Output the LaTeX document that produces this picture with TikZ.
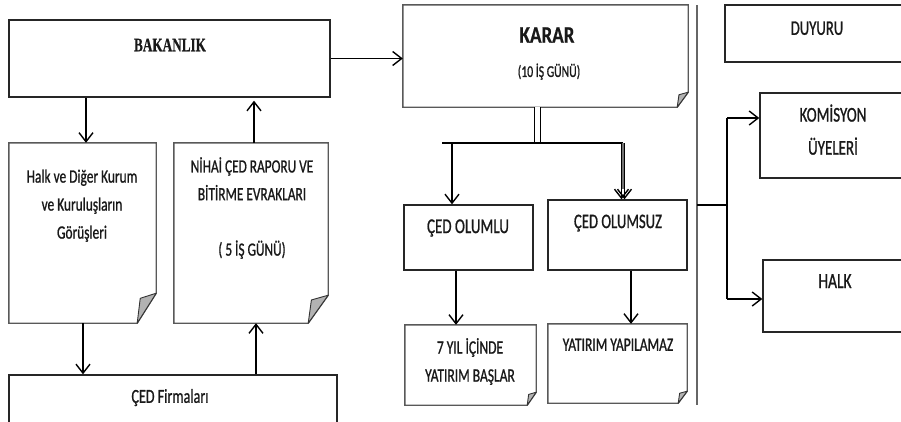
\documentclass[tikz,border=0pt]{standalone}
\usepackage{fontspec}
\usepackage{graphicx}
\setmainfont{Carlito}[FakeBold=1.2]
\newfontfamily\serifbk{Liberation Serif}[FakeBold=0.8]
\newfontfamily\karfont{Carlito Bold}[FakeBold=0.6]
\usetikzlibrary{arrows.meta,calc}
\newcommand\vt[3]{\scalebox{1}[1.4]{\fontsize{#1}{#2}\selectfont\begin{tabular}{@{}c@{}}#3\end{tabular}}}
\newcommand\docshape[3]{%
 \draw[docline] (#1.south west) -- (#1.north west) -- (#1.north east) -- ($(#1.south east)+(0,-#3)$) -- ($(#1.south east)+(-#2,0)$) -- cycle;
 \filldraw[fold] ($(#1.south east)+(0,-#3)$) -- ($(#1.south east)+(-0.84*#2,-0.83*#3)$) -- ($(#1.south east)+(-#2,0)$) -- cycle;}
\begin{document}
\begin{tikzpicture}[x=1pt,y=-1pt,
  box/.style={draw=black!85,line width=1.4pt,inner sep=0pt},
  docbox/.style={draw=none,inner sep=0pt},
  docline/.style={draw=black!65,line width=1.4pt,fill=white},
  fold/.style={draw=black!80,fill=black!30,line width=0.9pt,line join=round},
  txt/.style={inner sep=0pt,text=black!90},
  arr/.style={line width=1.4pt,-{Straight Barb[length=9pt,width=14pt,line width=1.4pt]}},
  ln/.style={line width=1.4pt}]
\useasboundingbox (0,0) rectangle (901,421);
\clip (0,0) rectangle (901,421);
% boxes
\node[box,minimum width=321pt,minimum height=77pt] (bak) at (169.5,58.5) {};
\node[docbox,minimum width=147pt,minimum height=180pt] (halk) at (82.5,233) {};
\node[docbox,minimum width=154pt,minimum height=180pt] (nihai) at (251,233) {};
\node[box,minimum width=328pt,minimum height=56pt] (cedf) at (173,403) {};
\node[docbox,minimum width=285pt,minimum height=102pt] (karar) at (545.5,56) {};
\node[box,minimum width=129pt,minimum height=65pt] (olumlu) at (468.5,237.5) {};
\node[box,minimum width=139pt,minimum height=70pt] (olumsuz) at (617.5,235) {};
\node[docbox,minimum width=131pt,minimum height=80pt] (yedi) at (470.5,365) {};
\node[docbox,minimum width=139pt,minimum height=79pt] (yatirim) at (617.5,363.5) {};
\node[box,minimum width=190pt,minimum height=57pt] (duyuru) at (820,33.5) {};
\node[box,minimum width=155pt,minimum height=85pt] (komisyon) at (837.5,135.5) {};
\node[box,minimum width=152pt,minimum height=72pt] (halkb) at (839,296) {};
\docshape{halk}{19}{30}
\docshape{nihai}{20}{28}
\docshape{karar}{11}{15}
\docshape{yedi}{9}{13}
\docshape{yatirim}{9}{12}
% texts
\node[txt] (tbak) at (170,45) {\scalebox{1}[1.45]{\serifbk\bfseries\fontsize{13.2}{16}\selectfont BAKANLIK}};
\node[txt] (thalk) at (82,205) {\vt{13.4}{20}{Halk ve Diğer Kurum\\ve Kuruluşların\\Görüşleri}};
\node[txt] (tnihai) at (252,208.5) {\vt{13.3}{19.8}{NİHAİ ÇED RAPORU VE\\BİTİRME EVRAKLARI\\[0pt] \\( 5 İŞ GÜNÜ)}};
\node[txt] (tcedf) at (170,398) {\vt{14.1}{17}{ÇED Firmaları}};
\node[txt] (tkarar) at (547,35) {\scalebox{1}[1.25]{\karfont\fontsize{19}{22}\selectfont KARAR}};
\node[txt] (tgun) at (549,73) {\vt{11.7}{14}{(10 İŞ GÜNÜ)}};
\node[txt] (tolumlu) at (468,228) {\vt{15}{18}{ÇED OLUMLU}};
\node[txt] (tolumsuz) at (618,223) {\vt{14.7}{18}{ÇED OLUMSUZ}};
\node[txt] (tyedi) at (470,362) {\vt{13.5}{20}{7 YIL İÇİNDE\\YATIRIM BAŞLAR}};
\node[txt] (tyatirim) at (618,346) {\vt{13.5}{17}{YATIRIM YAPILAMAZ}};
\node[txt] (tduyuru) at (817,30) {\vt{14.7}{17}{DUYURU}};
\node[txt] (tkom) at (833,131.5) {\vt{15}{23.6}{KOMİSYON\\ÜYELERİ}};
\node[txt] (thalkb) at (835,283) {\vt{15.5}{18}{HALK}};
% helper coordinates
\coordinate (c1) at (86,0);
\coordinate (c2) at (254,0);
\coordinate (c3) at (83,0);
\coordinate (c4) at (256,0);
\coordinate (kd) at (537.5,0);
\coordinate (h1) at (442,143);
\coordinate (h2) at (623,143);
\coordinate (hl) at (452,143);
\coordinate (c5) at (456,0);
\coordinate (c6) at (631,0);
\coordinate (s1) at (697,5);
\coordinate (s2) at (697,405);
\coordinate (sb) at (697,205);
\coordinate (v0) at (727,205);
\coordinate (v1) at (727,118);
\coordinate (v2) at (727,299);
% connectors
\draw[arr] (bak.east) -- (bak.east -| karar.west);
\draw[arr] (bak.south -| c1) -- (halk.north -| c1);
\draw[arr] (nihai.north -| c2) -- ([yshift=-3pt]bak.south -| c2);
\draw[arr] (halk.south -| c3) -- (cedf.north -| c3);
\draw[arr] (cedf.north -| c4) -- (nihai.south -| c4);
\draw[ln,double=white,double distance=5pt,line width=1.1pt] (karar.south -| kd) -- (h1 -| kd);
\draw[ln] (h1) -- (h2);
\draw[arr] (hl) -- (olumlu.north -| hl);
\draw[black!55,line width=3pt] (h2) -- ($(olumsuz.north -| h2)+(0,-10)$);
\draw[arr] ($(h2)+(-1.5,0)$) -- ($(olumsuz.north -| h2)+(-1.5,0)$);
\draw[arr] ($(h2)+(1.5,0)$) -- ($(olumsuz.north -| h2)+(1.5,0)$);
\draw[arr] (olumlu.south -| c5) -- (yedi.north -| c5);
\draw[arr] (olumsuz.south -| c6) -- (yatirim.north -| c6);
\draw[black!60,line width=1.5pt] (s1) -- (s2);
\draw[ln] (sb) -- (v0);
\draw[ln] (v1) -- (v2);
\draw[arr] (v1) -- (v1 -| komisyon.west);
\draw[arr] (v2) -- (v2 -| halkb.west);
\end{tikzpicture}
\end{document}
